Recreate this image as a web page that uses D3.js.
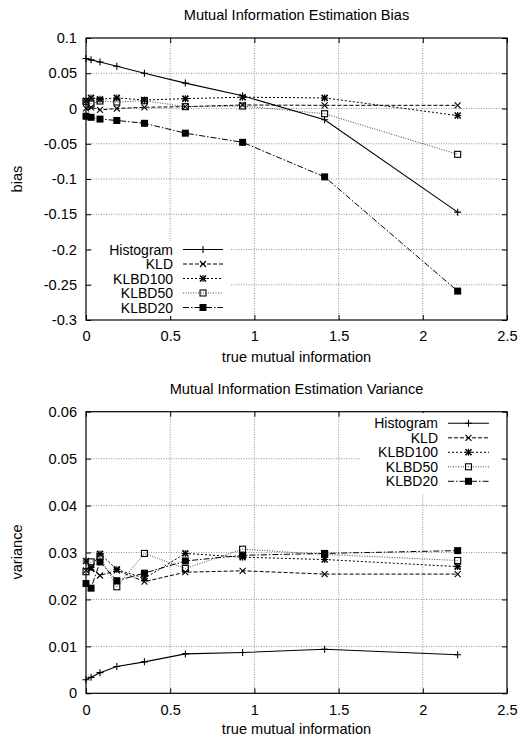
<!DOCTYPE html>
<html>
<head>
<meta charset="utf-8">
<script src="https://cdn.jsdelivr.net/npm/d3@7"></script>
<style>
  body { margin: 0; background: #fff; }
  svg text { font-family: "Liberation Sans", Arial, Helvetica, sans-serif; font-size: 14.6px; fill: #000; }
  svg text.leg { font-size: 14px; }
</style>
</head>
<body>
<svg width="521" height="738"></svg>
<script>
var svg = d3.select('svg');

// true mutual information (x positions)
var trueMI = [0, 0.03, 0.083, 0.183, 0.347, 0.59, 0.93, 1.417, 2.207];
var seriesNames = ['Histogram', 'KLD', 'KLBD100', 'KLBD50', 'KLBD20'];

// bias values
var biasHistogram = [0.071, 0.069, 0.066, 0.060, 0.050, 0.036, 0.018, -0.016, -0.147];
var biasKLD       = [0.0003, 0.0017, -0.002, 0.0, 0.0017, 0.0026, 0.005, 0.0045, 0.0045];
var biasKLBD100   = [0.011, 0.015, 0.013, 0.015, 0.012, 0.014, 0.016, 0.015, -0.010];
var biasKLBD50    = [0.0097, 0.0064, 0.0106, 0.0092, 0.011, 0.0026, 0.0035, -0.0074, -0.065];
var biasKLBD20    = [-0.011, -0.0125, -0.015, -0.017, -0.021, -0.035, -0.048, -0.097, -0.259];

// variance values
var varHistogram = [0.0029, 0.0034, 0.0044, 0.0057, 0.0067, 0.0084, 0.0087, 0.0094, 0.0082];
var varKLD       = [0.0262, 0.0265, 0.0251, 0.0262, 0.0238, 0.0258, 0.0261, 0.0254, 0.0254];
var varKLBD100   = [0.0282, 0.0268, 0.0297, 0.0264, 0.0245, 0.0298, 0.0290, 0.0285, 0.0270];
var varKLBD50    = [0.0259, 0.0280, 0.0291, 0.0227, 0.0298, 0.0266, 0.0307, 0.0296, 0.0283];
var varKLBD20    = [0.0234, 0.0224, 0.0280, 0.0240, 0.0256, 0.0282, 0.0294, 0.0298, 0.0304];

// tick values
var xTicks = [0, 0.5, 1, 1.5, 2, 2.5];
var biasTicks = [0.1, 0.05, 0, -0.05, -0.1, -0.15, -0.2, -0.25, -0.3];
var varTicks = [0, 0.01, 0.02, 0.03, 0.04, 0.05, 0.06];

// line styles per series
var styles = [
    {dash: null, width: 1.1, color: '#000', marker: 'plus'},
    {dash: '4,2', width: 1, color: '#000', marker: 'cross'},
    {dash: '2,2', width: 1, color: '#000', marker: 'star'},
    {dash: '1,1.5', width: 0.9, color: '#333', marker: 'box'},
    {dash: '6,2,1.5,2', width: 1, color: '#000', marker: 'fbox'}
];

function drawMarker(g, type, x, y) {
    if (type === 'plus' || type === 'star') {
        g.append('path').attr('d', 'M' + (x - 3.5) + ',' + y + 'H' + (x + 3.5) + 'M' + x + ',' + (y - 3.5) + 'V' + (y + 3.5))
            .attr('stroke', '#000').attr('stroke-width', 1.1);
    }
    if (type === 'cross' || type === 'star') {
        g.append('path').attr('d', 'M' + (x - 3) + ',' + (y - 3) + 'L' + (x + 3) + ',' + (y + 3) + 'M' + (x - 3) + ',' + (y + 3) + 'L' + (x + 3) + ',' + (y - 3))
            .attr('stroke', '#000').attr('stroke-width', type === 'star' ? 1.6 : 1.1);
    }
    if (type === 'box') {
        g.append('rect').attr('x', x - 3).attr('y', y - 3).attr('width', 6).attr('height', 6)
            .attr('fill', 'none').attr('stroke', '#000').attr('stroke-width', 1.1);
    }
    if (type === 'fbox') {
        g.append('rect').attr('x', x - 3.5).attr('y', y - 3.5).attr('width', 7).attr('height', 7)
            .attr('fill', '#000');
    }
}

function drawPanel(cfg) {
    var x = d3.scaleLinear().domain([0, 2.5]).range([86, 507]);
    var y = d3.scaleLinear().domain(cfg.yDomain).range([cfg.bottom, cfg.top]);
    var g = svg.append('g');

    // grid
    g.selectAll('.vgrid').data(xTicks.slice(1, -1)).enter().append('line')
        .attr('x1', function(d){ return x(d); }).attr('x2', function(d){ return x(d); })
        .attr('y1', cfg.top).attr('y2', cfg.bottom)
        .attr('stroke', '#777').attr('stroke-width', 0.8).attr('stroke-dasharray', '1,1.5');
    g.selectAll('.hgrid').data(cfg.yTicks.filter(function(d){ return d !== cfg.yDomain[0] && d !== cfg.yDomain[1]; }))
        .enter().append('line')
        .attr('x1', 86).attr('x2', 507)
        .attr('y1', function(d){ return y(d); }).attr('y2', function(d){ return y(d); })
        .attr('stroke', '#777').attr('stroke-width', 0.8).attr('stroke-dasharray', '1,1.5');

    // axes (ticks pointing inwards, mirrored)
    var fmt = function(d){ return String(+d.toFixed(3)); };
    g.append('g').attr('transform', 'translate(0,' + cfg.bottom + ')')
        .call(d3.axisBottom(x).tickValues(xTicks).tickSizeInner(-5).tickSizeOuter(0).tickPadding(11).tickFormat(fmt));
    g.append('g').attr('transform', 'translate(86,0)')
        .call(d3.axisLeft(y).tickValues(cfg.yTicks).tickSizeInner(-5).tickSizeOuter(0).tickPadding(9).tickFormat(fmt));
    g.append('g').attr('transform', 'translate(0,' + cfg.top + ')')
        .call(d3.axisTop(x).tickValues(xTicks).tickSizeInner(-5).tickSizeOuter(0).tickFormat(''));
    g.append('g').attr('transform', 'translate(507,0)')
        .call(d3.axisRight(y).tickValues(cfg.yTicks).tickSizeInner(-5).tickSizeOuter(0).tickFormat(''));
    g.selectAll('.domain').remove();
    g.selectAll('.tick text').attr('font-size', null).attr('font-family', null);
    g.append('rect').attr('x', 86).attr('y', cfg.top).attr('width', 421).attr('height', cfg.bottom - cfg.top)
        .attr('fill', 'none').attr('stroke', '#000').attr('stroke-width', 1.2);

    // legend box (opaque)
    var lg = cfg.legend;
    g.append('rect').attr('x', lg.boxX).attr('y', lg.boxY).attr('width', lg.boxW).attr('height', lg.boxH)
        .attr('fill', '#fff');

    // series
    var line = d3.line().x(function(d){ return x(d[0]); }).y(function(d){ return y(d[1]); });
    cfg.series.forEach(function(vals, i) {
        var st = styles[i];
        var pts = trueMI.map(function(v, j){ return [v, vals[j]]; });
        g.append('path').datum(pts).attr('d', line)
            .attr('fill', 'none').attr('stroke', st.color).attr('stroke-width', st.width)
            .attr('stroke-dasharray', st.dash);
        pts.forEach(function(p){ drawMarker(g, st.marker, x(p[0]), y(p[1])); });

        // legend entry
        var ly = lg.y0 + i * lg.dy;
        g.append('text').attr('class', 'leg').attr('x', lg.textX).attr('y', ly + 5).attr('text-anchor', 'end').text(seriesNames[i]);
        g.append('line').attr('x1', lg.lineX1).attr('x2', lg.lineX2).attr('y1', ly).attr('y2', ly)
            .attr('stroke', st.color).attr('stroke-width', st.width).attr('stroke-dasharray', st.dash);
        drawMarker(g, st.marker, (lg.lineX1 + lg.lineX2) / 2, ly);
    });

    // titles
    g.append('text').attr('x', 296.5).attr('y', cfg.titleY).attr('text-anchor', 'middle').text(cfg.title);
    g.append('text').attr('x', 296.5).attr('y', cfg.xLabelY).attr('text-anchor', 'middle').text('true mutual information');
    g.append('text').attr('transform', 'translate(22,' + cfg.yLabelY + ') rotate(-90)')
        .attr('text-anchor', 'middle').text(cfg.yLabel);
}

drawPanel({
    top: 38, bottom: 320, yDomain: [-0.3, 0.1], yTicks: biasTicks,
    series: [biasHistogram, biasKLD, biasKLBD100, biasKLBD50, biasKLBD20],
    title: 'Mutual Information Estimation Bias', titleY: 20, xLabelY: 362,
    yLabel: 'bias', yLabelY: 179,
    legend: {boxX: 93, boxY: 241, boxW: 137, boxH: 75, textX: 173, lineX1: 183, lineX2: 223, y0: 249.5, dy: 14.5}
});

drawPanel({
    top: 411.7, bottom: 693.3, yDomain: [0, 0.06], yTicks: varTicks,
    series: [varHistogram, varKLD, varKLBD100, varKLBD50, varKLBD20],
    title: 'Mutual Information Estimation Variance', titleY: 394, xLabelY: 734,
    yLabel: 'variance', yLabelY: 552,
    legend: {boxX: 360, boxY: 413, boxW: 140, boxH: 80, textX: 438, lineX1: 448, lineX2: 489, y0: 423.3, dy: 14.5}
});
</script>
</body>
</html>
